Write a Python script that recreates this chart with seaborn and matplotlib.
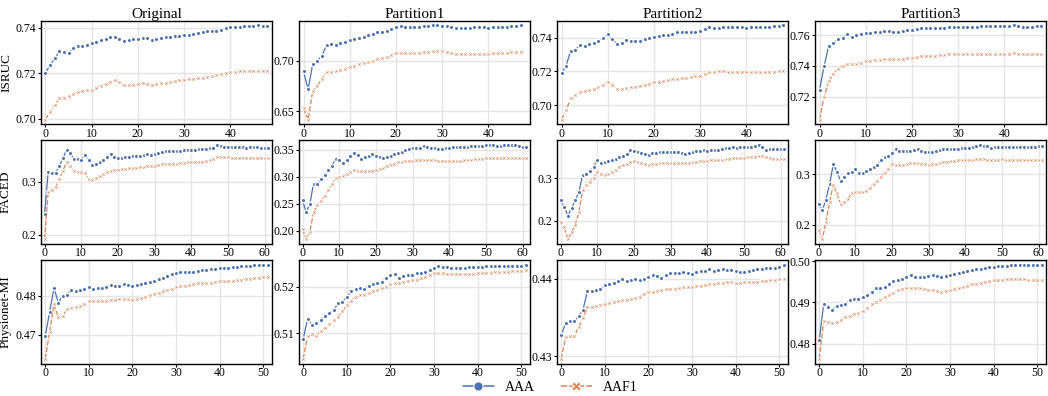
import pandas as pd
import matplotlib
matplotlib.use("Agg")
import matplotlib.pyplot as plt
from matplotlib.ticker import MultipleLocator
import seaborn as sns

datasets = ["ISRUC", "FACED", "Physionet-MI"]
splits = ["Original", "Partition1", "Partition2", "Partition3"]
models = ["AAA", "AAF1"]

# ------------------ ISRUC ------------------
isruc_orig_aaa = [0.7203, 0.7235, 0.7265, 0.7296, 0.7292, 0.7288, 0.7312, 0.7321, 0.7320, 0.7325,
                  0.7333, 0.7338, 0.7345, 0.7352, 0.7358, 0.7360, 0.7352, 0.7344, 0.7347, 0.7349,
                  0.7350, 0.7353, 0.7355, 0.7347, 0.7352, 0.7356, 0.7358, 0.7360, 0.7363, 0.7366,
                  0.7368, 0.7369, 0.7371, 0.7376, 0.7380, 0.7385, 0.7387, 0.7388, 0.7392, 0.7398,
                  0.7403, 0.7404, 0.7405, 0.7407, 0.7409, 0.7410, 0.7411, 0.7410, 0.7410]
isruc_orig_aaf1 = [0.6996, 0.7030, 0.7060, 0.7089, 0.7093, 0.7098, 0.7108, 0.7118, 0.7121, 0.7124,
                   0.7128, 0.7136, 0.7145, 0.7152, 0.7160, 0.7170, 0.7160, 0.7148, 0.7149, 0.7150,
                   0.7152, 0.7155, 0.7153, 0.7150, 0.7154, 0.7158, 0.7159, 0.7160, 0.7164, 0.7168,
                   0.7172, 0.7174, 0.7176, 0.7178, 0.7181, 0.7184, 0.7188, 0.7192, 0.7195, 0.7200,
                   0.7205, 0.7206, 0.7208, 0.7209, 0.7210, 0.7210, 0.7211, 0.7210, 0.7210]
isruc_p1_aaa = [0.6893, 0.6717, 0.6967, 0.7000, 0.7050, 0.7157, 0.7160, 0.7155, 0.7170, 0.7180,
                0.7207, 0.7215, 0.7223, 0.7237, 0.7250, 0.7268, 0.7283, 0.7285, 0.7290, 0.7312,
                0.7333, 0.7340, 0.7338, 0.7335, 0.7337, 0.7337, 0.7340, 0.7345, 0.7350, 0.7350,
                0.7348, 0.7343, 0.7330, 0.7320, 0.7322, 0.7320, 0.7325, 0.7330, 0.7333, 0.7330,
                0.7328, 0.7330, 0.7332, 0.7333, 0.7337, 0.7340, 0.7342, 0.7350]
isruc_p1_aaf1 = [0.6527, 0.6417, 0.6700, 0.6750, 0.6820, 0.6883, 0.6890, 0.6900, 0.6910, 0.6920,
                 0.6940, 0.6950, 0.6970, 0.6980, 0.6990, 0.7000, 0.7015, 0.7025, 0.7040, 0.7055,
                 0.7073, 0.7075, 0.7074, 0.7076, 0.7078, 0.7080, 0.7085, 0.7090, 0.7095, 0.7100,
                 0.7098, 0.7090, 0.7075, 0.7070, 0.7065, 0.7065, 0.7068, 0.7068, 0.7070, 0.7070,
                 0.7070, 0.7072, 0.7075, 0.7078, 0.7080, 0.7083, 0.7088, 0.7090]
isruc_p2_aaa = [0.7188, 0.7235, 0.7324, 0.7330, 0.7355, 0.7350, 0.7360, 0.7368, 0.7380, 0.7398,
                0.7420, 0.7390, 0.7364, 0.7370, 0.7385, 0.7378, 0.7378, 0.7382, 0.7390, 0.7398,
                0.7407, 0.7410, 0.7415, 0.7418, 0.7425, 0.7435, 0.7435, 0.7434, 0.7435, 0.7436,
                0.7438, 0.7450, 0.7464, 0.7460, 0.7460, 0.7462, 0.7462, 0.7463, 0.7465, 0.7463,
                0.7460, 0.7462, 0.7465, 0.7465, 0.7465, 0.7466, 0.7468, 0.7470, 0.7474]
isruc_p2_aaf1 = [0.6914, 0.6970, 0.7040, 0.7060, 0.7075, 0.7082, 0.7090, 0.7098, 0.7105, 0.7120,
                 0.7140, 0.7120, 0.7094, 0.7097, 0.7100, 0.7105, 0.7110, 0.7115, 0.7120, 0.7128,
                 0.7135, 0.7140, 0.7145, 0.7150, 0.7152, 0.7155, 0.7158, 0.7162, 0.7165, 0.7170,
                 0.7172, 0.7185, 0.7198, 0.7199, 0.7200, 0.7200, 0.7199, 0.7198, 0.7198, 0.7196,
                 0.7195, 0.7196, 0.7197, 0.7198, 0.7198, 0.7199, 0.7199, 0.7200, 0.7200]
isruc_p3_aaa = [0.7246, 0.7400, 0.7532, 0.7550, 0.7575, 0.7585, 0.7609, 0.7590, 0.7600, 0.7608,
                0.7615, 0.7618, 0.7620, 0.7622, 0.7625, 0.7630, 0.7620, 0.7624, 0.7628, 0.7632,
                0.7637, 0.7641, 0.7645, 0.7646, 0.7647, 0.7648, 0.7649, 0.7650, 0.7652, 0.7655,
                0.7657, 0.7657, 0.7656, 0.7655, 0.7657, 0.7660, 0.7660, 0.7660, 0.7659, 0.7660,
                0.7660, 0.7662, 0.7665, 0.7660, 0.7655, 0.7655, 0.7655, 0.7658, 0.7660]
isruc_p3_aaf1 = [0.7051, 0.7200, 0.7301, 0.7350, 0.7380, 0.7400, 0.7415, 0.7415, 0.7415, 0.7422,
                 0.7430, 0.7435, 0.7440, 0.7442, 0.7444, 0.7445, 0.7445, 0.7444, 0.7445, 0.7450,
                 0.7455, 0.7458, 0.7462, 0.7465, 0.7467, 0.7468, 0.7470, 0.7473, 0.7476, 0.7478,
                 0.7480, 0.7480, 0.7480, 0.7480, 0.7480, 0.7479, 0.7480, 0.7481, 0.7480, 0.7480,
                 0.7480, 0.7481, 0.7483, 0.7480, 0.7477, 0.7475, 0.7476, 0.7478, 0.7480]

# ------------------ FACED ------------------
faced_orig_aaa = [0.2395, 0.3190, 0.3160, 0.3170, 0.3300, 0.3450, 0.3605, 0.3550, 0.3427, 0.3430,
                  0.3420, 0.3510, 0.3420, 0.3318, 0.3340, 0.3375, 0.3410, 0.3470, 0.3530, 0.3480,
                  0.3455, 0.3462, 0.3470, 0.3480, 0.3490, 0.3495, 0.3500, 0.3510, 0.3520, 0.3515,
                  0.3530, 0.3550, 0.3570, 0.3578, 0.3585, 0.3588, 0.3590, 0.3592, 0.3595, 0.3598,
                  0.3600, 0.3608, 0.3615, 0.3620, 0.3625, 0.3635, 0.3645, 0.3700, 0.3680, 0.3670,
                  0.3660, 0.3660, 0.3660, 0.3655, 0.3652, 0.3650, 0.3652, 0.3655, 0.3655, 0.3648,
                  0.3640, 0.3635]
faced_orig_aaf1 = [0.1917, 0.2810, 0.2850, 0.2900, 0.3050, 0.3210, 0.3370, 0.3300, 0.3200, 0.3180,
                   0.3180, 0.3170, 0.3050, 0.3045, 0.3070, 0.3110, 0.3150, 0.3180, 0.3200, 0.3220,
                   0.3235, 0.3240, 0.3250, 0.3258, 0.3265, 0.3270, 0.3280, 0.3290, 0.3300, 0.3305,
                   0.3310, 0.3320, 0.3330, 0.3340, 0.3342, 0.3345, 0.3345, 0.3355, 0.3365, 0.3375,
                   0.3380, 0.3380, 0.3380, 0.3380, 0.3395, 0.3420, 0.3440, 0.3480, 0.3475, 0.3470,
                   0.3465, 0.3462, 0.3460, 0.3458, 0.3455, 0.3450, 0.3452, 0.3455, 0.3455, 0.3455,
                   0.3455, 0.3455]
faced_p1_aaa = [0.2562, 0.2344, 0.2500, 0.2875, 0.2870, 0.2950, 0.3030, 0.3120, 0.3200, 0.3325,
                0.3310, 0.3262, 0.3310, 0.3380, 0.3437, 0.3410, 0.3325, 0.3360, 0.3380, 0.3420,
                0.3390, 0.3360, 0.3356, 0.3370, 0.3390, 0.3415, 0.3440, 0.3465, 0.3490, 0.3510,
                0.3525, 0.3528, 0.3530, 0.3562, 0.3545, 0.3530, 0.3525, 0.3522, 0.3520, 0.3530,
                0.3540, 0.3548, 0.3550, 0.3552, 0.3550, 0.3560, 0.3570, 0.3572, 0.3570, 0.3575,
                0.3580, 0.3582, 0.3580, 0.3578, 0.3578, 0.3580, 0.3585, 0.3590, 0.3585, 0.3570,
                0.3560, 0.3560]
faced_p1_aaf1 = [0.2031, 0.1844, 0.1980, 0.2350, 0.2470, 0.2550, 0.2650, 0.2750, 0.2870, 0.2970,
                 0.3000, 0.3020, 0.3060, 0.3080, 0.3120, 0.3110, 0.3100, 0.3105, 0.3110, 0.3115,
                 0.3130, 0.3150, 0.3170, 0.3195, 0.3220, 0.3245, 0.3270, 0.3280, 0.3290, 0.3295,
                 0.3300, 0.3302, 0.3304, 0.3305, 0.3305, 0.3305, 0.3305, 0.3300, 0.3295, 0.3292,
                 0.3290, 0.3295, 0.3298, 0.3300, 0.3305, 0.3310, 0.3320, 0.3325, 0.3330, 0.3335,
                 0.3340, 0.3342, 0.3345, 0.3350, 0.3350, 0.3350, 0.3350, 0.3348, 0.3347, 0.3345,
                 0.3345, 0.3340]
faced_p2_aaa = [0.2496, 0.2320, 0.2120, 0.2300, 0.2480, 0.2670, 0.3080, 0.3100, 0.3180, 0.3280,
                0.3440, 0.3370, 0.3390, 0.3405, 0.3430, 0.3465, 0.3500, 0.3540, 0.3580, 0.3680,
                0.3660, 0.3630, 0.3605, 0.3585, 0.3565, 0.3590, 0.3610, 0.3615, 0.3620, 0.3618,
                0.3615, 0.3625, 0.3635, 0.3610, 0.3580, 0.3605, 0.3630, 0.3645, 0.3660, 0.3662,
                0.3660, 0.3665, 0.3670, 0.3680, 0.3690, 0.3710, 0.3730, 0.3732, 0.3730, 0.3735,
                0.3740, 0.3745, 0.3750, 0.3765, 0.3792, 0.3740, 0.3680, 0.3685, 0.3690, 0.3700,
                0.3705, 0.3700]
faced_p2_aaf1 = [0.1960, 0.1850, 0.1560, 0.1720, 0.1900, 0.2200, 0.2720, 0.2850, 0.2920, 0.3020,
                 0.3144, 0.3100, 0.3070, 0.3110, 0.3160, 0.3210, 0.3260, 0.3310, 0.3350, 0.3380,
                 0.3400, 0.3380, 0.3360, 0.3340, 0.3320, 0.3335, 0.3350, 0.3355, 0.3360, 0.3358,
                 0.3355, 0.3357, 0.3360, 0.3360, 0.3362, 0.3368, 0.3380, 0.3390, 0.3400, 0.3410,
                 0.3420, 0.3425, 0.3430, 0.3440, 0.3445, 0.3455, 0.3470, 0.3475, 0.3480, 0.3485,
                 0.3490, 0.3500, 0.3510, 0.3515, 0.3540, 0.3520, 0.3500, 0.3480, 0.3470, 0.3460,
                 0.3455, 0.3450]
faced_p3_aaa = [0.2417, 0.2285, 0.2500, 0.2800, 0.3192, 0.3050, 0.2868, 0.2950, 0.3020, 0.3040,
                0.3093, 0.3030, 0.3020, 0.3060, 0.3100, 0.3140, 0.3180, 0.3270, 0.3330, 0.3360,
                0.3410, 0.3490, 0.3460, 0.3455, 0.3455, 0.3460, 0.3470, 0.3497, 0.3450, 0.3430,
                0.3435, 0.3445, 0.3460, 0.3480, 0.3500, 0.3505, 0.3505, 0.3502, 0.3500, 0.3508,
                0.3515, 0.3522, 0.3530, 0.3550, 0.3576, 0.3560, 0.3550, 0.3520, 0.3530, 0.3535,
                0.3540, 0.3535, 0.3530, 0.3535, 0.3540, 0.3540, 0.3540, 0.3540, 0.3540, 0.3545,
                0.3550, 0.3560]
faced_p3_aaf1 = [0.1907, 0.1720, 0.2050, 0.2450, 0.2795, 0.2620, 0.2417, 0.2450, 0.2520, 0.2620,
                 0.2640, 0.2650, 0.2640, 0.2660, 0.2730, 0.2800, 0.2860, 0.2950, 0.3030, 0.3110,
                 0.3195, 0.3185, 0.3175, 0.3188, 0.3200, 0.3212, 0.3225, 0.3212, 0.3200, 0.3192,
                 0.3185, 0.3198, 0.3210, 0.3222, 0.3235, 0.3242, 0.3250, 0.3260, 0.3270, 0.3270,
                 0.3270, 0.3275, 0.3280, 0.3290, 0.3300, 0.3292, 0.3285, 0.3285, 0.3285, 0.3288,
                 0.3290, 0.3285, 0.3280, 0.3280, 0.3280, 0.3280, 0.3280, 0.3280, 0.3280, 0.3280,
                 0.3280, 0.3280]

# ------------------ Physionet-MI ------------------
phys_orig_aaa = [0.4697, 0.4758, 0.4820, 0.4783, 0.4800, 0.4803, 0.4816, 0.4812, 0.4815, 0.4818,
                 0.4822, 0.4818, 0.4819, 0.4820, 0.4823, 0.4828, 0.4824, 0.4826, 0.4830, 0.4828,
                 0.4824, 0.4827, 0.4831, 0.4833, 0.4835, 0.4838, 0.4842, 0.4846, 0.4850, 0.4855,
                 0.4859, 0.4860, 0.4860, 0.4861, 0.4862, 0.4864, 0.4866, 0.4866, 0.4868, 0.4869,
                 0.4870, 0.4871, 0.4872, 0.4873, 0.4875, 0.4876, 0.4877, 0.4877, 0.4878, 0.4878,
                 0.4879, 0.4880]
phys_orig_aaf1 = [0.4639, 0.4707, 0.4778, 0.4746, 0.4748, 0.4767, 0.4770, 0.4772, 0.4775, 0.4780,
                  0.4786, 0.4786, 0.4787, 0.4787, 0.4788, 0.4789, 0.4790, 0.4791, 0.4793, 0.4792,
                  0.4789, 0.4792, 0.4795, 0.4798, 0.4802, 0.4805, 0.4808, 0.4812, 0.4815, 0.4818,
                  0.4822, 0.4824, 0.4826, 0.4828, 0.4830, 0.4832, 0.4833, 0.4834, 0.4834, 0.4836,
                  0.4837, 0.4837, 0.4838, 0.4839, 0.4840, 0.4841, 0.4843, 0.4844, 0.4845, 0.4846,
                  0.4847, 0.4847]
phys_p1_aaa = [0.5089, 0.5131, 0.5119, 0.5122, 0.5129, 0.5138, 0.5143, 0.5150, 0.5165, 0.5168,
               0.5178, 0.5190, 0.5195, 0.5198, 0.5195, 0.5202, 0.5205, 0.5208, 0.5210, 0.5218,
               0.5225, 0.5226, 0.5218, 0.5222, 0.5224, 0.5225, 0.5228, 0.5230, 0.5232, 0.5235,
               0.5240, 0.5243, 0.5242, 0.5241, 0.5240, 0.5240, 0.5240, 0.5240, 0.5241, 0.5241,
               0.5242, 0.5242, 0.5243, 0.5243, 0.5244, 0.5244, 0.5244, 0.5245, 0.5245, 0.5245,
               0.5245, 0.5247]
phys_p1_aaf1 = [0.5046, 0.5095, 0.5098, 0.5095, 0.5105, 0.5112, 0.5120, 0.5128, 0.5135, 0.5148,
                0.5160, 0.5170, 0.5178, 0.5182, 0.5183, 0.5186, 0.5190, 0.5193, 0.5196, 0.5200,
                0.5206, 0.5207, 0.5208, 0.5210, 0.5212, 0.5214, 0.5215, 0.5218, 0.5220, 0.5224,
                0.5228, 0.5228, 0.5228, 0.5227, 0.5226, 0.5226, 0.5226, 0.5226, 0.5226, 0.5227,
                0.5228, 0.5229, 0.5229, 0.5230, 0.5231, 0.5231, 0.5232, 0.5232, 0.5233, 0.5234,
                0.5234, 0.5235]
phys_p2_aaa = [0.4327, 0.4343, 0.4345, 0.4345, 0.4352, 0.4360, 0.4384, 0.4384, 0.4385, 0.4386,
               0.4392, 0.4393, 0.4394, 0.4397, 0.4400, 0.4397, 0.4398, 0.4399, 0.4398, 0.4400,
               0.4402, 0.4404, 0.4403, 0.4401, 0.4404, 0.4407, 0.4407, 0.4407, 0.4408, 0.4407,
               0.4406, 0.4408, 0.4410, 0.4410, 0.4412, 0.4410, 0.4411, 0.4412, 0.4411, 0.4411,
               0.4410, 0.4408, 0.4409, 0.4410, 0.4411, 0.4412, 0.4412, 0.4413, 0.4413, 0.4414,
               0.4415, 0.4418]
phys_p2_aaf1 = [0.4297, 0.4325, 0.4326, 0.4326, 0.4338, 0.4350, 0.4363, 0.4364, 0.4365, 0.4366,
                0.4368, 0.4369, 0.4370, 0.4371, 0.4372, 0.4373, 0.4374, 0.4375, 0.4377, 0.4380,
                0.4383, 0.4383, 0.4384, 0.4385, 0.4386, 0.4386, 0.4387, 0.4388, 0.4389, 0.4389,
                0.4389, 0.4390, 0.4391, 0.4392, 0.4393, 0.4393, 0.4394, 0.4394, 0.4395, 0.4395,
                0.4394, 0.4394, 0.4395, 0.4395, 0.4396, 0.4396, 0.4397, 0.4397, 0.4398, 0.4398,
                0.4399, 0.4400]
phys_p3_aaa = [0.4809, 0.4895, 0.4888, 0.4881, 0.4891, 0.4893, 0.4895, 0.4905, 0.4908, 0.4909,
               0.4912, 0.4918, 0.4925, 0.4936, 0.4935, 0.4938, 0.4945, 0.4952, 0.4955, 0.4958,
               0.4963, 0.4967, 0.4962, 0.4962, 0.4963, 0.4965, 0.4967, 0.4965, 0.4962, 0.4964,
               0.4967, 0.4970, 0.4972, 0.4974, 0.4977, 0.4980, 0.4982, 0.4982, 0.4983, 0.4985,
               0.4987, 0.4988, 0.4988, 0.4989, 0.4990, 0.4990, 0.4991, 0.4991, 0.4992, 0.4991,
               0.4991, 0.4991]
phys_p3_aaf1 = [0.4763, 0.4855, 0.4853, 0.4849, 0.4853, 0.4858, 0.4865, 0.4868, 0.4872, 0.4875,
                0.4878, 0.4886, 0.4895, 0.4900, 0.4905, 0.4912, 0.4918, 0.4924, 0.4929, 0.4932,
                0.4935, 0.4935, 0.4935, 0.4934, 0.4932, 0.4930, 0.4929, 0.4928, 0.4926, 0.4928,
                0.4930, 0.4933, 0.4936, 0.4938, 0.4941, 0.4944, 0.4946, 0.4948, 0.4950, 0.4952,
                0.4954, 0.4955, 0.4955, 0.4956, 0.4956, 0.4956, 0.4956, 0.4956, 0.4955, 0.4955,
                0.4955, 0.4955]

# y tick positions per panel (row = dataset, column = split)
yticks = [
    [[0.70, 0.72, 0.74], [0.65, 0.70], [0.70, 0.72, 0.74], [0.72, 0.74, 0.76]],
    [[0.2, 0.3], [0.20, 0.25, 0.30, 0.35], [0.2, 0.3], [0.2, 0.3]],
    [[0.47, 0.48], [0.51, 0.52], [0.43, 0.44], [0.48, 0.49, 0.50]],
]

curves = [
    [(isruc_orig_aaa, isruc_orig_aaf1), (isruc_p1_aaa, isruc_p1_aaf1),
     (isruc_p2_aaa, isruc_p2_aaf1), (isruc_p3_aaa, isruc_p3_aaf1)],
    [(faced_orig_aaa, faced_orig_aaf1), (faced_p1_aaa, faced_p1_aaf1),
     (faced_p2_aaa, faced_p2_aaf1), (faced_p3_aaa, faced_p3_aaf1)],
    [(phys_orig_aaa, phys_orig_aaf1), (phys_p1_aaa, phys_p1_aaf1),
     (phys_p2_aaa, phys_p2_aaf1), (phys_p3_aaa, phys_p3_aaf1)],
]

# long table
rows = []
for i, ds in enumerate(datasets):
    for j, sp in enumerate(splits):
        for m, vals in zip(models, curves[i][j]):
            for ep, v in enumerate(vals):
                rows.append((ds, sp, m, ep, v))
df = pd.DataFrame(rows, columns=["dataset", "split", "model", "epoch", "acc"])

sns.set_theme(style="whitegrid", rc={
    "axes.edgecolor": "black",
    "axes.linewidth": 1.0,
    "grid.color": "#e4e4e4",
    "grid.linewidth": 1.0,
    "xtick.bottom": True,
    "ytick.left": True,
    "xtick.major.size": 2,
    "ytick.major.size": 2.5,
    "xtick.major.width": 0.8,
    "ytick.major.width": 0.8,
    "xtick.major.pad": 0.5,
    "ytick.major.pad": 1.0,
    "xtick.color": "black",
    "ytick.color": "black",
    "text.color": "black",
    "axes.labelcolor": "black",
})
plt.rcParams["font.family"] = ["Liberation Serif", "DejaVu Serif"]

fig, axes = plt.subplots(3, 4, figsize=(10.48, 3.96), dpi=100, sharex="row")
fig.subplots_adjust(left=0.039, right=0.998, top=0.948, bottom=0.082,
                    wspace=0.117, hspace=0.154)

for i, ds in enumerate(datasets):
    n_ep = df.loc[df["dataset"] == ds, "epoch"].max() + 1
    for j, sp in enumerate(splits):
        ax = axes[i, j]
        sub = df[(df["dataset"] == ds) & (df["split"] == sp)]
        sns.lineplot(data=sub, x="epoch", y="acc", hue="model", style="model",
                     markers=True, dashes=True, markersize=3.2, markeredgewidth=1.0,
                     linewidth=0.9, palette="deep", ax=ax,
                     legend=(i == 0 and j == 0))
        # thinner white rim on the X markers so the AAF1 curve stays visible
        for ln in ax.lines:
            if ln.get_marker() == "X":
                ln.set_markeredgewidth(0.75)
        ax.set_yticks(yticks[i][j])
        ax.xaxis.set_major_locator(MultipleLocator(10))
        ax.set_xlim(-1, n_ep)
        ax.tick_params(labelsize=8.5)
        ax.set_xlabel("")
        ax.set_ylabel(ds if j == 0 else "", fontsize=9.5)
        ax.yaxis.set_label_coords(-0.125, 0.5)
        if i == 0:
            ax.set_title(sp, fontsize=11, pad=2)

handles, labels = axes[0, 0].get_legend_handles_labels()
axes[0, 0].get_legend().remove()
for h in handles:
    h.set_linewidth(1.1)
    h.set_markeredgewidth(0.8)
fig.legend(handles, labels, loc="center", bbox_to_anchor=(0.525, 0.021), ncol=2,
           frameon=False, fontsize=10, markerscale=2.1, handlelength=2.2,
           handletextpad=0.8, columnspacing=1.9, borderpad=0.2)

plt.savefig("out.png", dpi=100)
